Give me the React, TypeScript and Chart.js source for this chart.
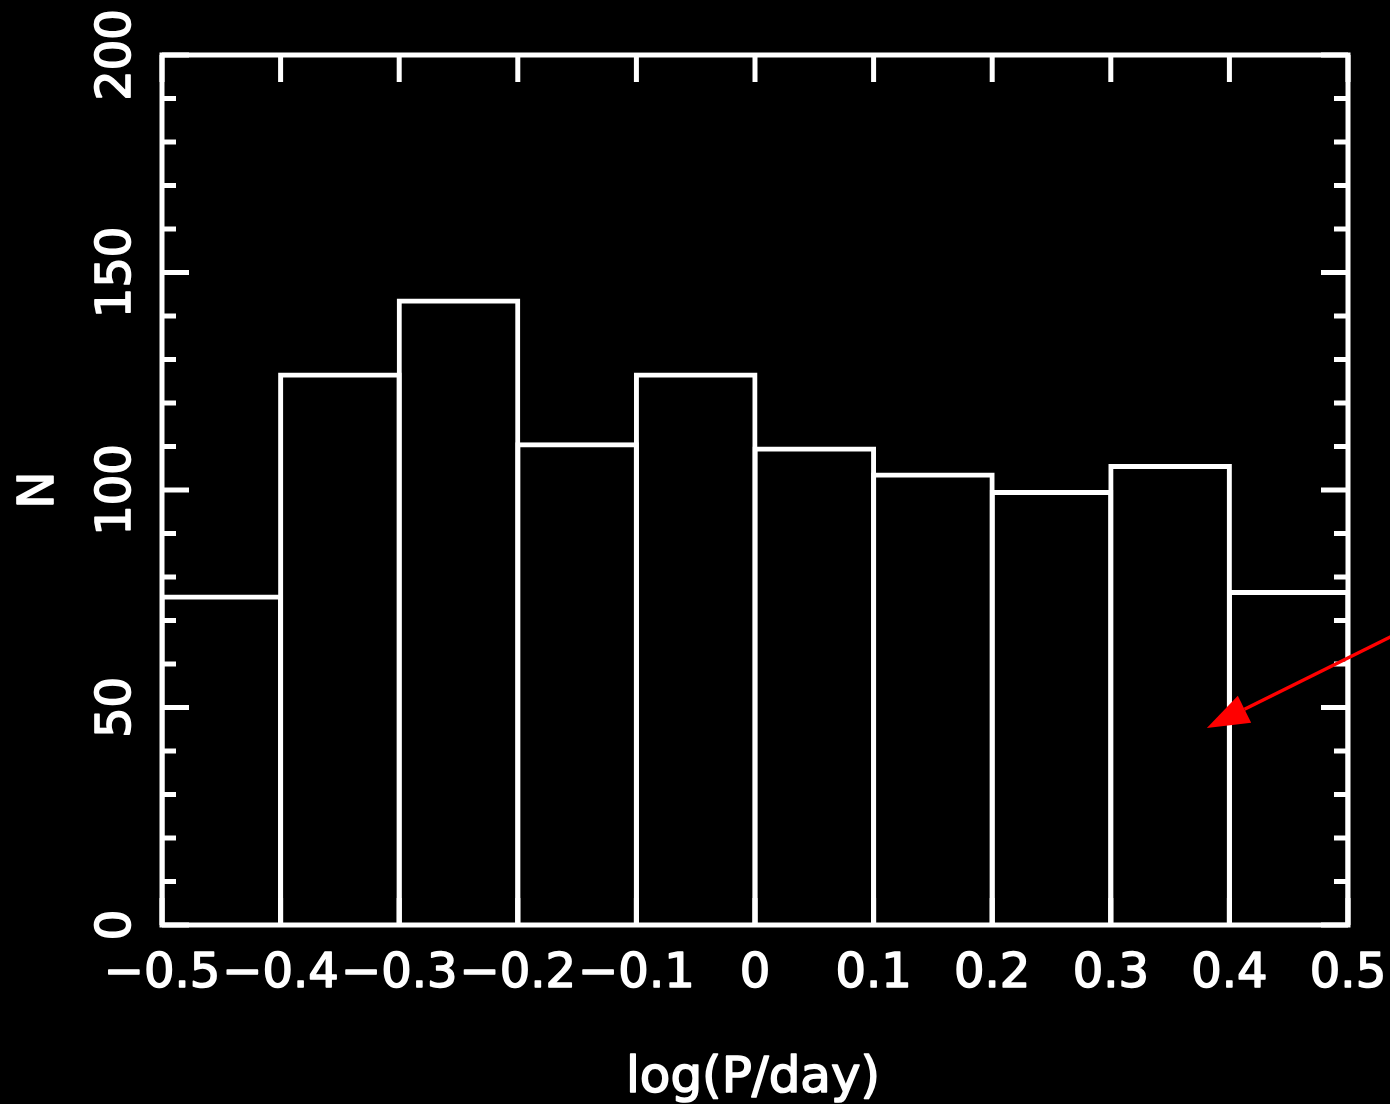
import { useEffect, useRef } from "react";
import { Chart, registerables } from "chart.js";

Chart.register(...registerables);

// Histogram of log(P/day): bin centres and counts per 0.1-wide bin
const binCenters = [-0.45, -0.35, -0.25, -0.15, -0.05, 0.05, 0.15, 0.25, 0.35, 0.45];
const counts = [76, 127, 144, 111, 127, 110, 104, 100, 106, 77];

// Axis ticks
const xTicks = [-0.5, -0.4, -0.3, -0.2, -0.1, 0, 0.1, 0.2, 0.3, 0.4, 0.5];
const yMajorTicks = [0, 50, 100, 150, 200];
const yMinorTicks = [10, 20, 30, 40, 60, 70, 80, 90, 110, 120, 130, 140, 160, 170, 180, 190];

const xTitle = "log(P/day)";
const yTitle = "N";

// Red pointer arrow, in data coordinates (tail runs off the right edge)
const arrowTip = { x: 0.381, y: 45.3 };
const arrowTail = { x: 0.56, y: 69.5 };

const W = 1390;
const H = 1104;
const PAD = { left: 162, right: 42, top: 55, bottom: 179 };
const LINE = 5;

const fmtTick = (v: number) => {
  if (Math.abs(v) < 1e-9) return "0";
  const s = Math.abs(v).toFixed(1);
  return v < 0 ? "\u2212" + s : s;
};

// filled text with a thin outline, for a heavier stroke look
const drawText = (ctx: CanvasRenderingContext2D, s: string, x: number, y: number) => {
  ctx.fillText(s, x, y);
  ctx.strokeText(s, x, y);
};

const framePlugin = {
  id: "frame",
  afterDraw(chart: any) {
    const ctx: CanvasRenderingContext2D = chart.ctx;
    const { left, right, top, bottom } = chart.chartArea;
    const xs = chart.scales.x;
    const ys = chart.scales.y;
    ctx.save();
    ctx.strokeStyle = "#ffffff";
    ctx.fillStyle = "#ffffff";
    ctx.lineWidth = LINE;
    ctx.lineJoin = "miter";
    ctx.lineCap = "butt";

    // box
    ctx.strokeRect(left, top, right - left, bottom - top);

    // x ticks on top and bottom
    ctx.beginPath();
    for (const v of xTicks) {
      const px = xs.getPixelForValue(v);
      ctx.moveTo(px, top);
      ctx.lineTo(px, top + 27);
      ctx.moveTo(px, bottom);
      ctx.lineTo(px, bottom - 27);
    }
    // y ticks on left and right
    const yTick = (v: number, len: number) => {
      const py = ys.getPixelForValue(v);
      ctx.moveTo(left, py);
      ctx.lineTo(left + len, py);
      ctx.moveTo(right, py);
      ctx.lineTo(right - len, py);
    };
    yMajorTicks.forEach((v) => yTick(v, 27));
    yMinorTicks.forEach((v) => yTick(v, 14));
    ctx.stroke();

    // tick labels
    ctx.lineWidth = 1.6;
    ctx.lineJoin = "round";
    ctx.font = '48px "DejaVu Sans"';
    ctx.textAlign = "center";
    ctx.textBaseline = "alphabetic";
    for (const v of xTicks) {
      drawText(ctx, fmtTick(v), xs.getPixelForValue(v), bottom + 62);
    }
    for (const v of yMajorTicks) {
      ctx.save();
      ctx.translate(left - 32, ys.getPixelForValue(v));
      ctx.rotate(-Math.PI / 2);
      drawText(ctx, String(v), 0, 0);
      ctx.restore();
    }

    // axis titles
    ctx.font = '50px "DejaVu Sans"';
    drawText(ctx, xTitle, (left + right) / 2 - 2, bottom + 167);
    ctx.save();
    ctx.translate(left - 109, (top + bottom) / 2);
    ctx.rotate(-Math.PI / 2);
    drawText(ctx, yTitle, 0, 0);
    ctx.restore();

    // arrow
    const tx = xs.getPixelForValue(arrowTip.x);
    const ty = ys.getPixelForValue(arrowTip.y);
    const sx = xs.getPixelForValue(arrowTail.x);
    const sy = ys.getPixelForValue(arrowTail.y);
    const ang = Math.atan2(ty - sy, tx - sx);
    const headLen = 42;
    const headHalf = 15;
    const bx = tx - headLen * Math.cos(ang);
    const by = ty - headLen * Math.sin(ang);
    ctx.strokeStyle = "#ff0000";
    ctx.fillStyle = "#ff0000";
    ctx.lineWidth = 3.5;
    ctx.lineJoin = "miter";
    ctx.beginPath();
    ctx.moveTo(sx, sy);
    ctx.lineTo(bx, by);
    ctx.stroke();
    ctx.beginPath();
    ctx.moveTo(tx, ty);
    ctx.lineTo(bx + headHalf * Math.sin(ang), by - headHalf * Math.cos(ang));
    ctx.lineTo(bx - headHalf * Math.sin(ang), by + headHalf * Math.cos(ang));
    ctx.closePath();
    ctx.fill();

    ctx.restore();
  },
};

export default function App() {
  const canvasRef = useRef<HTMLCanvasElement | null>(null);

  useEffect(() => {
    const canvas = canvasRef.current;
    if (!canvas) return;
    const binPx = (W - PAD.left - PAD.right) / binCenters.length;
    const chart = new Chart(canvas, {
      type: "bar",
      data: {
        datasets: [
          {
            data: binCenters.map((x, i) => ({ x, y: counts[i] })),
            backgroundColor: "rgba(0,0,0,0)",
            borderColor: "#ffffff",
            borderWidth: LINE,
            borderSkipped: "start",
            inflateAmount: 0,
            barThickness: binPx + LINE,
          } as any,
        ],
      },
      options: {
        responsive: false,
        devicePixelRatio: 1,
        animation: false,
        layout: { padding: PAD },
        plugins: { legend: { display: false }, tooltip: { enabled: false } },
        scales: {
          x: { type: "linear", min: -0.5, max: 0.5, offset: false, display: false },
          y: { type: "linear", min: 0, max: 200, display: false },
        },
      },
      plugins: [framePlugin],
    });
    return () => chart.destroy();
  }, []);

  return (
    <div
      style={{
        position: "fixed",
        left: 0,
        top: 0,
        width: W,
        height: H,
        background: "#000000",
      }}
    >
      <canvas ref={canvasRef} width={W} height={H} style={{ display: "block" }} />
    </div>
  );
}
